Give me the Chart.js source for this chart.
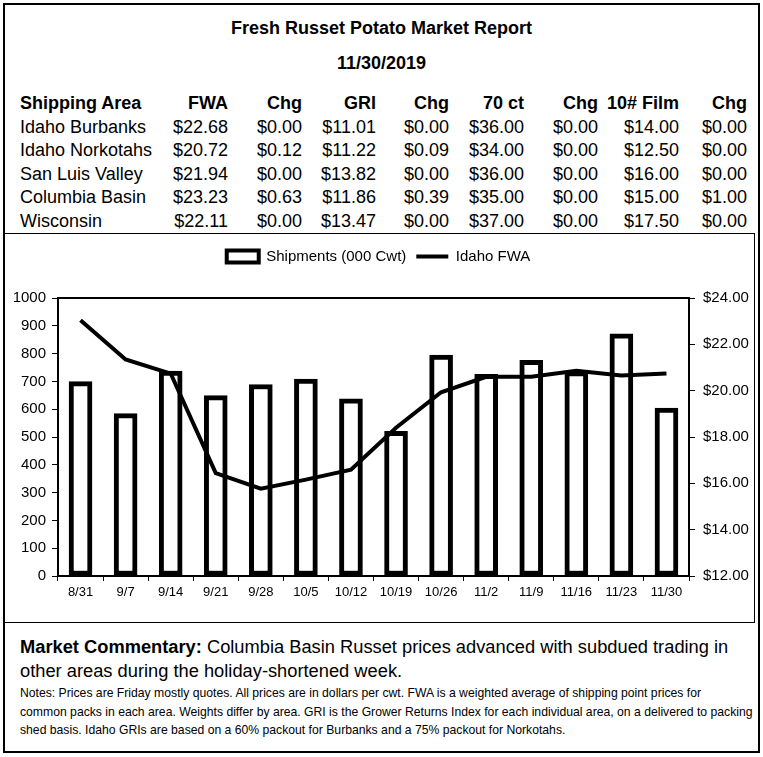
<!DOCTYPE html>
<html>
<head>
  <meta charset="UTF-8" />
  <title>Fresh Russet Potato Market Report</title>
  <style>
    body { margin: 0; width: 763px; height: 757px; background: #fff; font-family: "Liberation Sans", Arial, sans-serif; color: #000; position: relative; overflow: hidden; }
    #frame { position: absolute; left: 3px; top: 3px; width: 757px; height: 750px; border: 2px solid #000; box-sizing: border-box; }
    .title { position: absolute; left: 3px; width: 757px; text-align: center; font-weight: bold; font-size: 18px; line-height: 20px; }
    #prices { position: absolute; left: 20px; top: 92px; border-collapse: collapse; table-layout: fixed; font-size: 18px; }
    #prices td { padding: 0; height: 23.6px; line-height: 23.6px; text-align: right; white-space: nowrap; }
    #prices td:first-child { text-align: left; }
    #prices tr:first-child td { font-weight: bold; }
    #chartBox { position: absolute; left: 3px; top: 233px; width: 752px; height: 390px; border: 1px solid #000; box-sizing: border-box; }
    #chartWrap { position: absolute; left: 4px; top: 234px; width: 749px; height: 387px; }
    #commentary { position: absolute; left: 20px; top: 635px; width: 730px; font-size: 18.3px; line-height: 24px; }
    #notes { position: absolute; left: 20px; top: 684px; width: 742px; font-size: 12.2px; line-height: 18.5px; white-space: nowrap; }
  </style>
</head>
<body>
  <div id="frame"></div>
  <div class="title" style="top: 18px;">Fresh Russet Potato Market Report</div>
  <div class="title" style="top: 53px;">11/30/2019</div>
  <table id="prices">
    <colgroup>
      <col style="width: 134px;"><col style="width: 74px;"><col style="width: 74px;"><col style="width: 74px;"><col style="width: 73px;"><col style="width: 75px;"><col style="width: 74px;"><col style="width: 81px;"><col style="width: 68px;">
    </colgroup>
    <tbody id="priceBody"></tbody>
  </table>
  <div id="chartBox"></div>
  <div id="chartWrap"><canvas id="potatoChart"></canvas></div>
  <div id="commentary"><b>Market Commentary:</b> Columbia Basin Russet prices advanced with subdued trading in other areas during the holiday-shortened week.</div>
  <div id="notes">Notes: Prices are Friday mostly quotes. All prices are in dollars per cwt. FWA is a weighted average of shipping point prices for<br>common packs in each area. Weights differ by area. GRI is the Grower Returns Index for each individual area, on a delivered to packing<br>shed basis. Idaho GRIs are based on a 60% packout for Burbanks and a 75% packout for Norkotahs.</div>

  <script src="https://cdn.jsdelivr.net/npm/chart.js"></script>
  <script>
    // price table
    const tableHeader = ['Shipping Area', 'FWA', 'Chg', 'GRI', 'Chg', '70 ct', 'Chg', '10# Film', 'Chg'];
    const areas = ['Idaho Burbanks', 'Idaho Norkotahs', 'San Luis Valley', 'Columbia Basin', 'Wisconsin'];
    const fwa = ['$22.68', '$20.72', '$21.94', '$23.23', '$22.11'];
    const fwaChg = ['$0.00', '$0.12', '$0.00', '$0.63', '$0.00'];
    const gri = ['$11.01', '$11.22', '$13.82', '$11.86', '$13.47'];
    const griChg = ['$0.00', '$0.09', '$0.00', '$0.39', '$0.00'];
    const ct70 = ['$36.00', '$34.00', '$36.00', '$35.00', '$37.00'];
    const ct70Chg = ['$0.00', '$0.00', '$0.00', '$0.00', '$0.00'];
    const film10 = ['$14.00', '$12.50', '$16.00', '$15.00', '$17.50'];
    const film10Chg = ['$0.00', '$0.00', '$0.00', '$1.00', '$0.00'];

    // chart data
    const weeks = ['8/31', '9/7', '9/14', '9/21', '9/28', '10/5', '10/12', '10/19', '10/26', '11/2', '11/9', '11/16', '11/23', '11/30'];
    const shipments = [699, 584, 737, 649, 689, 708, 637, 520, 795, 725, 776, 735, 871, 604];
    const idahoFwa = [23.04, 21.35, 20.74, 16.44, 15.77, 16.16, 16.59, 18.4, 19.93, 20.6, 20.6, 20.86, 20.65, 20.74];

    const body = document.getElementById('priceBody');
    const rows = [tableHeader];
    areas.forEach((a, i) => rows.push([a, fwa[i], fwaChg[i], gri[i], griChg[i], ct70[i], ct70Chg[i], film10[i], film10Chg[i]]));
    rows.forEach(r => {
      const tr = document.createElement('tr');
      r.forEach(c => { const td = document.createElement('td'); td.textContent = c; tr.appendChild(td); });
      body.appendChild(tr);
    });

    Chart.defaults.font.family = '"Liberation Sans", Arial, sans-serif';
    Chart.defaults.color = '#000';

    new Chart(document.getElementById('potatoChart'), {
      type: 'bar',
      data: {
        labels: weeks,
        datasets: [{
          type: 'bar',
          label: 'Shipments (000 Cwt)',
          data: shipments,
          yAxisID: 'y',
          backgroundColor: '#fff',
          borderColor: '#000',
          borderWidth: 5,
          borderSkipped: false,
          barThickness: 23,
          order: 2
        }, {
          type: 'line',
          label: 'Idaho FWA',
          data: idahoFwa,
          yAxisID: 'y1',
          borderColor: '#000',
          backgroundColor: '#000',
          borderWidth: 4,
          pointRadius: 0,
          tension: 0,
          order: 1
        }]
      },
      options: {
        responsive: true,
        maintainAspectRatio: false,
        animation: false,
        layout: { padding: { top: 5, left: 0, right: 0, bottom: 0 } },
        plugins: {
          tooltip: { enabled: false },
          legend: {
            position: 'top',
            labels: {
              font: { size: 15 },
              usePointStyle: true,
              pointStyleWidth: 32,
              boxWidth: 32,
              boxHeight: 12,
              padding: 10,
              generateLabels: chart => {
                const items = Chart.defaults.plugins.legend.labels.generateLabels(chart);
                items.forEach(it => {
                  it.pointStyle = it.datasetIndex === 0 ? 'rect' : 'line';
                  it.strokeStyle = '#000';
                  it.fillStyle = it.datasetIndex === 0 ? '#fff' : '#000';
                  it.lineWidth = 4;
                });
                return items.sort((a, b) => a.datasetIndex - b.datasetIndex);
              }
            }
          }
        },
        scales: {
          x: {
            position: 'bottom',
            grid: { offset: true, drawOnChartArea: false, tickLength: 5, color: '#000', lineWidth: 1 },
            border: { display: true, color: '#000', width: 2 },
            ticks: { font: { size: 13 }, padding: 4, maxRotation: 0, autoSkip: false },
            afterFit: s => { s.height = 45; }
          },
          xTop: {
            type: 'category',
            labels: weeks,
            position: 'top',
            grid: { display: false, drawTicks: false },
            border: { display: true, color: '#000', width: 2 },
            ticks: { display: false },
            afterFit: s => { s.height = 24; }
          },
          y: {
            position: 'left',
            min: 0,
            max: 1000,
            grid: { drawOnChartArea: false, tickLength: 6, color: '#000' },
            border: { display: true, color: '#000', width: 2 },
            ticks: { stepSize: 100, font: { size: 15 }, padding: 6, callback: v => String(v) },
            afterFit: s => { s.width = 54; }
          },
          y1: {
            position: 'right',
            min: 12,
            max: 24,
            grid: { drawOnChartArea: false, tickLength: 6, color: '#000' },
            border: { display: true, color: '#000', width: 2 },
            ticks: { stepSize: 2, font: { size: 15 }, padding: 8, callback: v => '$' + v.toFixed(2) },
            afterFit: s => { s.width = 64; }
          }
        }
      }
    });
  </script>
</body>
</html>
